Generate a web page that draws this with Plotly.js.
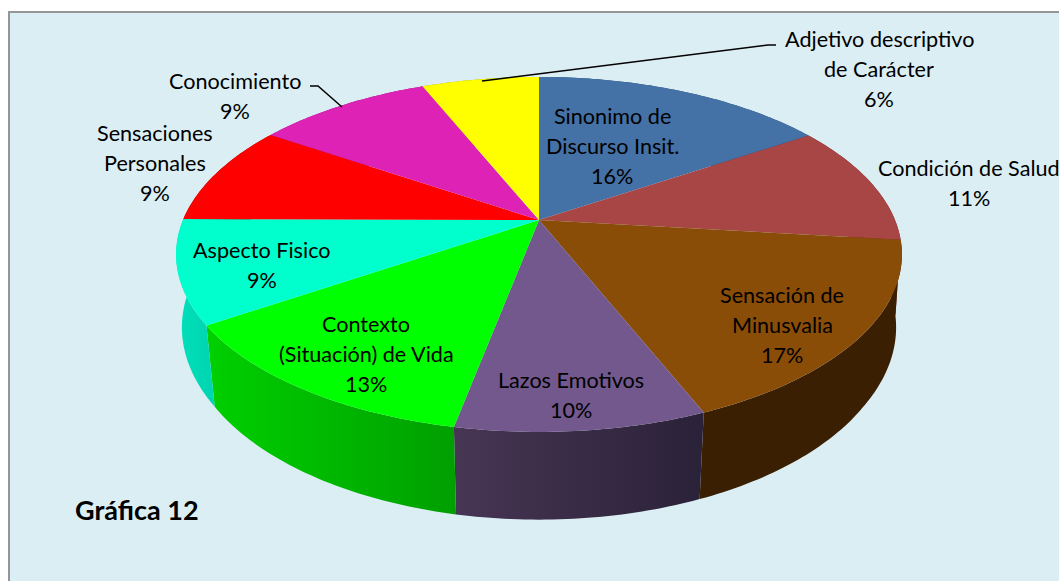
<!DOCTYPE html>
<html>
<head>
<meta charset="utf-8">
<script src="https://cdn.plot.ly/plotly-3.0.1.min.js"></script>
<style>html,body{margin:0;padding:0;background:#fff;overflow:hidden}</style>
</head>
<body>
<div id="chart" style="width:1059px;height:581px"></div>
<script>
// Data
const categories = ["Sinonimo de Discurso Insit.", "Condición de Salud", "Sensación de Minusvalia", "Lazos Emotivos", "Contexto (Situación) de Vida", "Aspecto Fisico", "Sensaciones Personales", "Conocimiento", "Adjetivo descriptivo de Carácter"];
const values = [15.8, 11, 17, 9.3, 12.6, 9.4, 9.2, 9.4, 6.3];
const labelLines = [["Sinonimo de", "Discurso Insit.", "16%"], ["Condición de Salud", "11%"], ["Sensación de", "Minusvalia", "17%"], ["Lazos Emotivos", "10%"], ["Contexto", "(Situación) de Vida", "13%"], ["Aspecto Fisico", "9%"], ["Sensaciones", "Personales", "9%"], ["Conocimiento", "9%"], ["Adjetivo descriptivo", "de Carácter", "6%"]];

// Styles and layout
const topColors = ["#4471a6", "#a84545", "#8a4d08", "#72588d", "#00ff00", "#00ffcc", "#ff0000", "#dd22b5", "#ffff00"];
const wallStops = [["#2c4a6e", "#2c4a6e"], ["#6e2d2d", "#6e2d2d"], ["#3a1f02", "#3a1f02"], ["#473554", "#2a2238"], ["#00d000", "#009f00"], ["#00e0bb", "#00d4b0"], ["#a00000", "#a00000"], ["#901a78", "#901a78"], ["#a0a000", "#a0a000"]];
const labelPos = [[612, 116], [969, 168], [782, 295], [571, 380], [366, 324], [262, 250], [155, 133], [235, 81], [879, 39]];
const lineGap = 30;

// 3D pie projection (pixel axes)
const apex = [539, 220], A = 170.8, K = 0.194, B = 356;
const botSY = 1.06, botD = 75;
function proj(theta, r) {
  const u = r * Math.sin(theta), v = r * Math.cos(theta), w = 1 + K * v;
  return [B * u / w, A * v / w];
}
function topPt(t) { const p = proj(t, 1); return [apex[0] + p[0], apex[1] - p[1]]; }
function botPt(t) {
  const p = proj(t, 1);
  const sx = 0.988 - 0.013 * Math.min(1, Math.max(0, -p[1] / 107));
  return [apex[0] + p[0] * sx, apex[1] - p[1] * botSY + botD];
}

const total = values.reduce((a, b) => a + b, 0);
const walls = [], tops = [];
let cum = 0;
values.forEach((val, i) => {
  const t0 = cum / total * 2 * Math.PI; cum += val;
  const t1 = cum / total * 2 * Math.PI;
  const n = Math.max(8, Math.ceil((t1 - t0) * 60));
  const tx = [apex[0]], ty = [apex[1]], fx = [], fy = [], bx = [], by = [];
  for (let k = 0; k <= n; k++) {
    const t = t0 + (t1 - t0) * k / n;
    const a = topPt(t), b = botPt(t);
    tx.push(a[0]); ty.push(a[1]);
    fx.push(a[0]); fy.push(a[1]);
    bx.unshift(b[0]); by.unshift(b[1]);
  }
  tx.push(apex[0]); ty.push(apex[1]);
  const wx = fx.concat(bx), wy = fy.concat(by);
  wx.push(wx[0]); wy.push(wy[0]);
  walls.push({
    type: "scatter", mode: "none", x: wx, y: wy, fill: "toself", hoverinfo: "skip", showlegend: false,
    fillgradient: { type: "horizontal", start: Math.min(...wx), stop: Math.max(...wx), colorscale: [[0, wallStops[i][0]], [1, wallStops[i][1]]] }
  });
  tops.push({
    type: "scatter", mode: "none", x: tx, y: ty, fill: "toself", fillcolor: topColors[i], name: categories[i],
    text: labelLines[i].join(" "), hoverinfo: "text", showlegend: false
  });
});

const leaders = [
  { type: "scatter", mode: "lines", x: [310, 318, 342], y: [86, 86, 107], line: { color: "#000", width: 1.5 }, hoverinfo: "skip", showlegend: false },
  { type: "scatter", mode: "lines", x: [776, 768, 482], y: [45, 45, 81], line: { color: "#000", width: 1.5 }, hoverinfo: "skip", showlegend: false }
];

const font = { family: "Lato, 'Open Sans', sans-serif", size: 21.6, color: "#000" };
const annotations = [];
labelLines.forEach((lines, i) => {
  lines.forEach((s, j) => {
    annotations.push({ x: labelPos[i][0], y: labelPos[i][1] + j * lineGap, xref: "x", yref: "y", text: s, showarrow: false, font, xanchor: "center", yanchor: "middle" });
  });
});
annotations.push({ x: 73, y: 509, xref: "x", yref: "y", text: "<b>Gráfica 12</b>", showarrow: false, xanchor: "left", yanchor: "middle", font: { family: "Lato, 'Open Sans', sans-serif", size: 27, color: "#000" } });

const hiddenAxis = r => ({ range: r, visible: false, fixedrange: true });
Plotly.newPlot("chart", walls.concat(tops, leaders), {
  width: 1059, height: 581,
  margin: { l: 0, r: 0, t: 0, b: 0 },
  paper_bgcolor: "#fff", plot_bgcolor: "#fff",
  xaxis: hiddenAxis([0, 1059]),
  yaxis: hiddenAxis([581, 0]),
  showlegend: false,
  shapes: [{ type: "rect", xref: "x", yref: "y", x0: 9, y0: 12, x1: 1080, y1: 600, layer: "below", fillcolor: "#dbeef4", line: { color: "#969696", width: 2 } }],
  annotations
}, { displayModeBar: false, staticPlot: false });
</script>
</body>
</html>
